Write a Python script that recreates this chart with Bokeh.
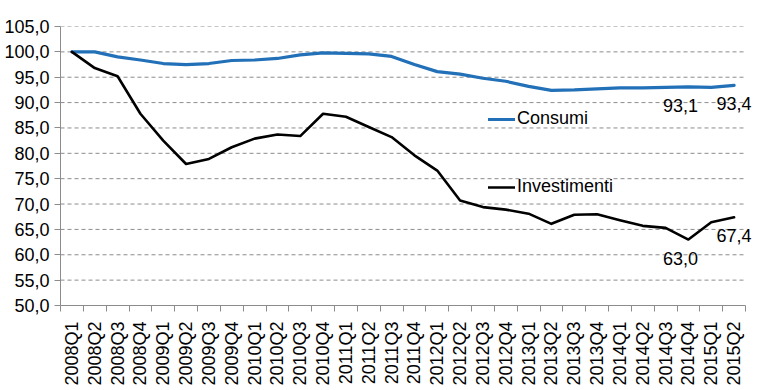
from bokeh.plotting import figure
from bokeh.models import FixedTicker, Legend, LegendItem, Range1d, Label
from bokeh.embed import file_html
from bokeh.resources import INLINE

quarters = ["2008Q1", "2008Q2", "2008Q3", "2008Q4", "2009Q1", "2009Q2", "2009Q3", "2009Q4",
            "2010Q1", "2010Q2", "2010Q3", "2010Q4", "2011Q1", "2011Q2", "2011Q3", "2011Q4",
            "2012Q1", "2012Q2", "2012Q3", "2012Q4", "2013Q1", "2013Q2", "2013Q3", "2013Q4",
            "2014Q1", "2014Q2", "2014Q3", "2014Q4", "2015Q1", "2015Q2"]
consumi = [100.0, 100.0, 99.0, 98.4, 97.7, 97.5, 97.7, 98.3, 98.4, 98.7, 99.4, 99.8, 99.7, 99.6,
           99.1, 97.5, 96.1, 95.6, 94.8, 94.2, 93.2, 92.4, 92.5, 92.7, 92.9, 92.9, 93.0, 93.1,
           93.0, 93.4]
investimenti = [100.0, 96.8, 95.2, 87.8, 82.5, 77.9, 78.9, 81.2, 82.9, 83.7, 83.4, 87.8, 87.2,
                85.2, 83.2, 79.6, 76.6, 70.7, 69.4, 68.9, 68.1, 66.1, 67.9, 68.0, 66.8, 65.7,
                65.3, 63.0, 66.4, 67.4]
y_ticks = [50, 55, 60, 65, 70, 75, 80, 85, 90, 95, 100, 105]
y_tick_labels = ["50,0", "55,0", "60,0", "65,0", "70,0", "75,0", "80,0", "85,0", "90,0",
                 "95,0", "100,0", "105,0"]
label_quarters_a = ["2014Q4"]
label_quarters_b = ["2015Q2"]

FONT = "Liberation Sans"
BLUE = "#2270b8"
GRID = "#8c8c8c"

W, H = 757, 390
LEFT, TOP, BOTTOM = 60, 26, 85
PLOT_W = 685           # pixel width of the category area
EXTRA_R = W - LEFT - PLOT_W  # free room on the right for data labels

n = len(quarters)
idx = list(range(n))
pos = {q: i for i, q in enumerate(quarters)}
x0, x1 = -0.5, n - 0.5
x_end = x1 + EXTRA_R * (n / PLOT_W)

p = figure(width=W, height=H, output_backend="svg", toolbar_location=None,
           x_range=Range1d(x0, x_end), y_range=Range1d(y_ticks[0], y_ticks[-1]),
           min_border_left=LEFT, min_border_right=0, min_border_top=TOP, min_border_bottom=BOTTOM)
p.outline_line_color = None
p.background_fill_color = "white"
p.border_fill_color = "white"
p.xgrid.grid_line_color = None
p.ygrid.grid_line_color = None

# grid lines limited to the category area
gy = y_ticks[1:]
p.segment(x0=[x0] * len(gy), x1=[x1] * len(gy), y0=gy, y1=gy,
          line_color=GRID, line_dash="4 3", line_width=1)

# axes
p.xaxis.ticker = FixedTicker(ticks=idx, minor_ticks=[i - 0.5 for i in range(n + 1)])
p.xaxis.bounds = (x0, x1)
p.xaxis.major_label_overrides = {i: q for i, q in enumerate(quarters)}
p.xaxis.major_label_orientation = 3.14159265 / 2
p.xaxis.major_tick_out = 0
p.xaxis.major_tick_in = 0
p.xaxis.minor_tick_out = 6
p.xaxis.minor_tick_in = 0
p.xaxis.major_label_standoff = 10
p.xaxis.minor_tick_line_color = GRID
p.xaxis.axis_line_color = GRID

p.yaxis.ticker = FixedTicker(ticks=y_ticks)
p.yaxis.major_label_overrides = {t: l for t, l in zip(y_ticks, y_tick_labels)}
p.yaxis.major_tick_out = 6
p.yaxis.major_tick_in = 0
p.yaxis.minor_tick_line_color = None
p.yaxis.major_label_standoff = 5
p.yaxis.axis_line_color = GRID
p.yaxis.major_tick_line_color = GRID

for ax in (p.xaxis, p.yaxis):
    ax.major_label_text_font = FONT
    ax.major_label_text_font_size = "18px"
    ax.major_label_text_color = "black"

# lines
r_c = p.line(idx, consumi, line_color=BLUE, line_width=3.2, line_join="round", line_cap="round")
r_i = p.line(idx, investimenti, line_color="black", line_width=2.6, line_join="round", line_cap="round")

# data labels
def fmt(v):
    return f"{v:.1f}".replace(".", ",")

for qs, xoff in ((label_quarters_a, -8), (label_quarters_b, 0)):
    for q in qs:
        i = pos[q]
        for series in (consumi, investimenti):
            p.add_layout(Label(x=i, y=series[i], text=fmt(series[i]), text_font=FONT,
                               text_font_size="18px", text_color="black", text_align="center",
                               text_baseline="top", y_offset=-12, x_offset=xoff))

# legends
for r, lab, loc in ((r_c, "Consumi", (428, 176)), (r_i, "Investimenti", (428, 108))):
    lg = Legend(items=[LegendItem(label=lab, renderers=[r])], location=loc,
                glyph_width=27, glyph_height=20, label_standoff=2, padding=0, margin=0,
                border_line_color=None, background_fill_alpha=0,
                label_text_font=FONT, label_text_font_size="18px", label_text_color="black")
    p.add_layout(lg, "center")

open("out.html", "w").write(file_html(p, INLINE))
